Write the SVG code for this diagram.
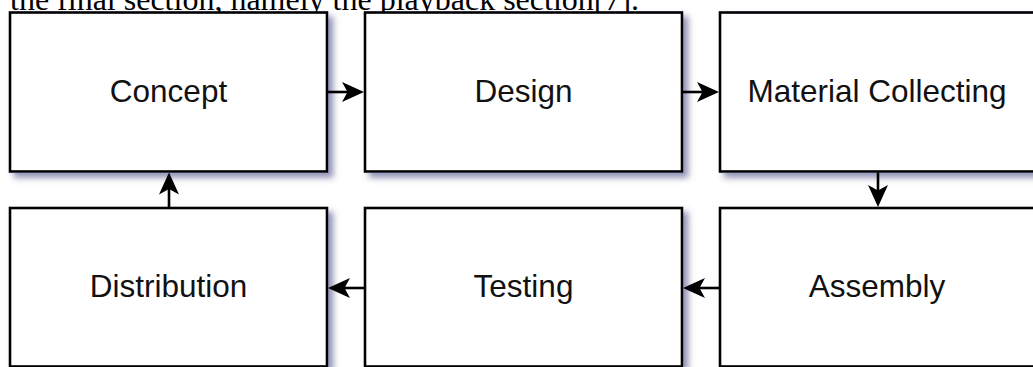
<svg xmlns="http://www.w3.org/2000/svg" width="1033" height="367" viewBox="0 0 1033 367">
<style>
.box{fill:#fff;stroke:#000;stroke-width:2.6;filter:url(#sh)}
.lbl{font-family:"Liberation Sans",Arial,sans-serif;font-size:31.5px;fill:#111;text-anchor:middle}
.cap{font-family:"Liberation Serif","Times New Roman",serif;font-size:32px;fill:#000}
.con{stroke:#000;stroke-width:2.6;fill:none;marker-end:url(#ah)}
</style>
<defs>
<filter id="sh" x="-10%" y="-10%" width="130%" height="130%">
<feGaussianBlur in="SourceAlpha" stdDeviation="3"/>
<feOffset dx="5" dy="5" result="b"/>
<feFlood flood-color="#6e6e9e" flood-opacity="0.75"/>
<feComposite in2="b" operator="in"/>
<feMerge><feMergeNode/><feMergeNode in="SourceGraphic"/></feMerge>
</filter>
<marker id="ah" viewBox="0 0 22 20" refX="16" refY="10" markerWidth="22" markerHeight="20" markerUnits="userSpaceOnUse" orient="auto">
<path d="M22,10 L0,0 L5.5,10 L0,20 Z" fill="#000"/>
</marker>
</defs>
<rect width="1033" height="367" fill="#fff"/>
<text class="cap" x="10" y="9.5">the final section, namely the playback section[7].</text>
<g id="concept"><rect class="box" x="10" y="12.5" width="317" height="159"/><text class="lbl" x="168.5" y="102">Concept</text></g>
<g id="design"><rect class="box" x="365" y="12.5" width="317" height="159"/><text class="lbl" x="523.5" y="102">Design</text></g>
<g id="material"><rect class="box" x="720" y="12.5" width="317" height="159"/><text class="lbl" x="877" y="102">Material Collecting</text></g>
<g id="distribution"><rect class="box" x="10" y="208" width="317" height="158.5"/><text class="lbl" x="168.5" y="296.5">Distribution</text></g>
<g id="testing"><rect class="box" x="365" y="208" width="317" height="158.5"/><text class="lbl" x="523.5" y="296.5">Testing</text></g>
<g id="assembly"><rect class="box" x="720" y="208" width="317" height="158.5"/><text class="lbl" x="877" y="296.5">Assembly</text></g>
<g id="connectors">
<line class="con" x1="328" y1="92" x2="358" y2="92"/>
<line class="con" x1="683" y1="92" x2="713" y2="92"/>
<line class="con" x1="878" y1="172.5" x2="878" y2="201"/>
<line class="con" x1="719" y1="288" x2="689" y2="288"/>
<line class="con" x1="364" y1="288" x2="334" y2="288"/>
<line class="con" x1="169" y1="207" x2="169" y2="178.5"/>
</g>
</svg>
